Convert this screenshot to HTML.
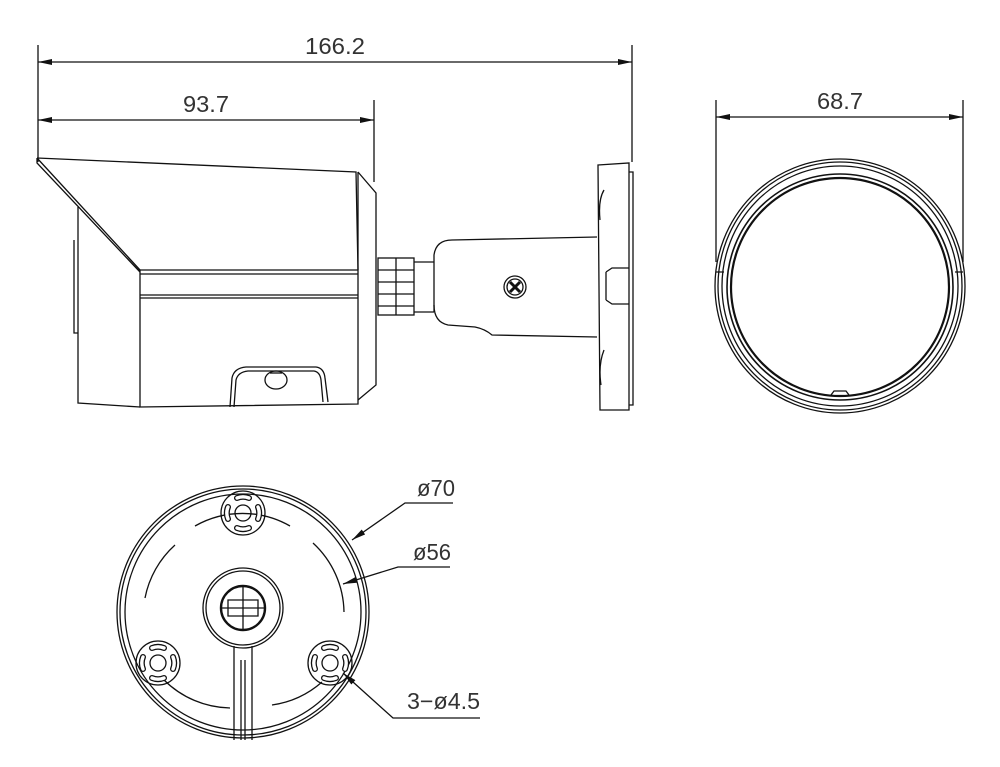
<!DOCTYPE html>
<html><head><meta charset="utf-8"><style>
html,body{margin:0;padding:0;background:#fff;}
svg{display:block;}
text{font-family:"Liberation Sans",sans-serif;fill:#333;}
</style></head><body>
<svg width="1000" height="767" viewBox="0 0 1000 767" xmlns="http://www.w3.org/2000/svg">
<defs>
<marker id="a" viewBox="0 0 14 6" refX="14" refY="3" markerWidth="14" markerHeight="6" orient="auto-start-reverse" markerUnits="userSpaceOnUse">
<path d="M0,0 L14,3 L0,6 z" fill="#111"/></marker>
<g id="h" stroke="#111" fill="none" stroke-width="1.3">
<circle cx="0" cy="0" r="22"/><circle cx="0" cy="0" r="8"/>
<path d="M-6,-15 A16,16 0 0 1 6,-15 M15,-6 A16,16 0 0 1 15,6 M6,15 A16,16 0 0 1 -6,15 M-15,6 A16,16 0 0 1 -15,-6" stroke-width="6" stroke-linecap="round"/>
<path d="M-6,-15 A16,16 0 0 1 6,-15 M15,-6 A16,16 0 0 1 15,6 M6,15 A16,16 0 0 1 -6,15 M-15,6 A16,16 0 0 1 -15,-6" stroke-width="3.4" stroke="#fff" stroke-linecap="round"/>
</g>
</defs>
<g stroke="#111" fill="none" stroke-width="1.3">
<line x1="38" y1="45" x2="38" y2="162"/>
<line x1="632" y1="45" x2="632" y2="162"/>
<line x1="38" y1="62" x2="632" y2="62" marker-start="url(#a)" marker-end="url(#a)"/>
<line x1="374" y1="100" x2="374" y2="182"/>
<line x1="38" y1="120" x2="374" y2="120" marker-start="url(#a)" marker-end="url(#a)"/>
<line x1="716" y1="100" x2="716" y2="262"/>
<line x1="963" y1="100" x2="963" y2="262"/>
<line x1="716" y1="117" x2="963" y2="117" marker-start="url(#a)" marker-end="url(#a)"/>

<path d="M37,158 L356,172 L358,270 M37,158 L37,163 L140,272 M37,158 L140,270"/>
<path d="M140,270 L358,270 M140,274 L358,274 M140,295 L358,295 M140,298 L358,298"/>
<path d="M140,270 L140,407 L358,404 L358,172"/>
<path d="M358,172 L376,193 L376,385 L358,400"/>
<path d="M78,207 L78,403 L140,407 M74,240 L74,333 L78,333"/>
<path d="M230,407 L232,378 Q234,368 246,367 L316,367 Q324,368 325,378 L328,402"/>
<path d="M234,407 L236,380 Q238,372 248,371 L314,371 Q320,372 321,380 L323,402"/>
<ellipse cx="276" cy="380" rx="11" ry="9"/>
<path d="M270,373 L282,373"/>
<rect x="378" y="258" width="36" height="57"/>
<path d="M378,270 L414,270 M378,282 L414,282 M378,294 L414,294 M378,306 L414,306 M396,258 L396,315"/>
<path d="M414,262 L434,262 M414,312 L434,312"/>
<path d="M434,312 L434,255 Q436,240 452,240 L597,237"/>
<path d="M434,305 Q434,322 448,325 L475,327 Q485,329 492,335 L597,337"/>
<circle cx="515" cy="287" r="11"/><circle cx="515" cy="287" r="8"/>
<path d="M510,282 L520,292 M520,282 L510,292" stroke-width="3"/>
<path d="M598,165 L629,163 L629,410 L600,410 L598,165 Z"/>
<path d="M629,172 L633,172 L633,405 L629,405"/>
<path d="M606,272 L612,268 L629,268 M606,300 L612,304 L629,304 M606,272 L606,300"/>
<path d="M604,190 Q598,200 600,220 M604,350 Q598,365 601,385"/>

<ellipse cx="840" cy="286" rx="125" ry="127"/>
<ellipse cx="840" cy="286" rx="122" ry="124"/>
<ellipse cx="840" cy="286" rx="118" ry="120"/>
<ellipse cx="840" cy="287" rx="113" ry="113" stroke-width="1.6"/>
<ellipse cx="840" cy="287" rx="109" ry="109" stroke-width="2.2"/>
<path d="M716,272 L724,272 M955,272 L963,272 M831,395 L834,391 L846,391 L849,395"/>

<circle cx="243" cy="612" r="126"/>
<circle cx="243" cy="612" r="123"/>
<circle cx="243" cy="612" r="118"/>
<path d="M195,526 A96,96 0 0 1 290,526 M313,543 A96,96 0 0 1 344,612 M145,598 A96,96 0 0 1 175,545 M272,705 A96,96 0 0 0 322,682 M164,680 A96,96 0 0 0 230,708"/>
<use href="#h" x="243" y="513"/>
<use href="#h" x="158" y="663"/>
<use href="#h" x="330" y="663"/>
<circle cx="243" cy="608" r="40"/><circle cx="243" cy="608" r="37"/>
<circle cx="243" cy="608" r="22" stroke-width="2.4"/>
<path d="M243,586 L243,630 M221,608 L265,608 M228,600 L258,600 L258,616 L228,616Z"/>
<path d="M234,646 L234,740 M252,646 L252,740 M241,660 L241,740 M245,660 L245,740"/>
<path d="M453,503 L405,503 L352,540" marker-end="url(#a)"/>
<path d="M450,567 L398,567 L343,584" marker-end="url(#a)"/>
<path d="M480,718 L393,718 L343,673" marker-end="url(#a)"/>
</g>
<g font-size="23">
<text x="305" y="54" textLength="60" lengthAdjust="spacingAndGlyphs">166.2</text>
<text x="183" y="112" textLength="46" lengthAdjust="spacingAndGlyphs">93.7</text>
<text x="817" y="109" textLength="46" lengthAdjust="spacingAndGlyphs">68.7</text>
<text x="417" y="496" textLength="38" lengthAdjust="spacingAndGlyphs">ø70</text>
<text x="413" y="560" textLength="38" lengthAdjust="spacingAndGlyphs">ø56</text>
<text x="407" y="709" textLength="73" lengthAdjust="spacingAndGlyphs">3−ø4.5</text>
</g>
</svg>
</body></html>
